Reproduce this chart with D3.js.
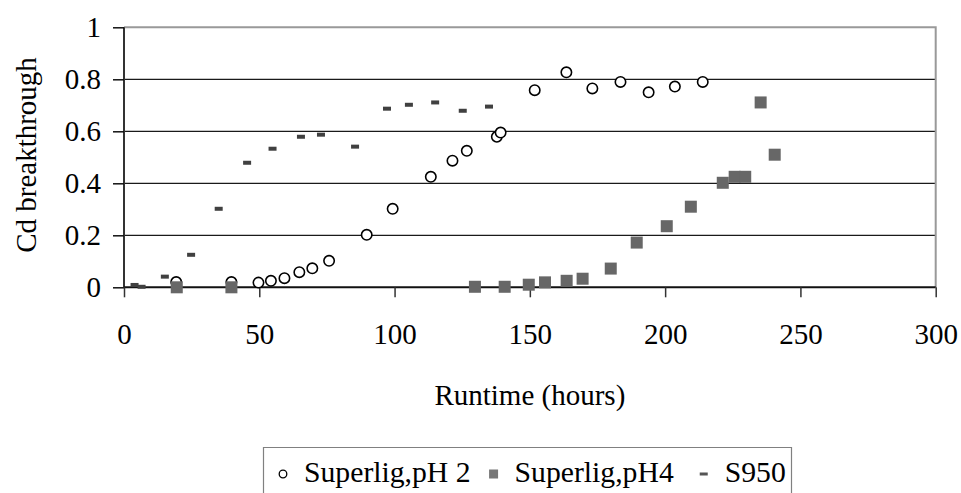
<!DOCTYPE html>
<html>
<head>
<meta charset="utf-8">
<script src="https://cdn.jsdelivr.net/npm/d3@7"></script>
<style>
  html, body { margin: 0; padding: 0; background: #fff; }
  svg { display: block; font-family: "Liberation Serif", "Times New Roman", serif; }
</style>
</head>
<body>
<svg id="chart" width="961" height="493"></svg>
<script>
// ---- data ----
const seriesNames = ["Superlig,pH 2", "Superlig,pH4", "S950"];
const xTicks = [0, 50, 100, 150, 200, 250, 300];
const yTicks = [0, 0.2, 0.4, 0.6, 0.8, 1];

const pH2Runtime = [19.3, 39.7, 49.7, 54.3, 59.3, 64.8, 69.6, 75.8, 89.7, 99.3, 113.4, 121.4, 126.7, 137.8, 139.2, 151.8, 163.5, 173.1, 183.5, 193.9, 203.6, 213.9];
const pH2Cd      = [0.02, 0.02, 0.018, 0.025, 0.035, 0.058, 0.073, 0.102, 0.202, 0.302, 0.425, 0.487, 0.525, 0.579, 0.595, 0.758, 0.827, 0.765, 0.79, 0.75, 0.772, 0.79];

const pH4Runtime = [19.5, 39.7, 129.7, 140.7, 149.6, 155.6, 163.6, 169.5, 179.9, 189.5, 200.6, 209.5, 221.3, 225.7, 229.6, 235.3, 240.5];
const pH4Cd      = [0.0, 0.0, 0.002, 0.002, 0.01, 0.019, 0.025, 0.033, 0.072, 0.172, 0.235, 0.31, 0.402, 0.425, 0.425, 0.711, 0.51];

const s950Runtime = [3.9, 6.5, 15.1, 24.8, 35, 45.5, 54.9, 65.4, 72.8, 85.4, 97.2, 105.3, 115, 125.2, 134.9];
const s950Cd      = [0.009, 0.002, 0.041, 0.125, 0.302, 0.479, 0.533, 0.579, 0.587, 0.541, 0.687, 0.702, 0.711, 0.679, 0.695];

// ---- layout ----
const svg = d3.select("#chart");
const L = 124, R = 935.7, T = 27.3, B = 287.3;
const x = d3.scaleLinear().domain([0, 300]).range([L, R]);
const y = d3.scaleLinear().domain([0, 1]).range([B, T]);
const FS = 29;
const FF = "Liberation Serif, Times New Roman, serif";

// gridlines (0.2 .. 0.8)
svg.append("g").selectAll("line")
  .data(yTicks.filter(v => v > 0 && v < 1))
  .join("line")
  .attr("x1", L).attr("x2", R)
  .attr("y1", d => y(d)).attr("y2", d => y(d))
  .attr("stroke", "#1a1a1a").attr("stroke-width", 1.2);

// plot border top + right (gray)
svg.append("path")
  .attr("d", `M${L},${y(1)}H${x(300)}V${B}`)
  .attr("fill", "none").attr("stroke", "#999").attr("stroke-width", 2);

// y axis
const yAxis = d3.axisLeft(y).tickValues(yTicks).tickSize(11).tickPadding(12)
  .tickFormat(d => d === 0 ? "0" : d === 1 ? "1" : d3.format(".1f")(d));
const gy = svg.append("g").attr("transform", `translate(${L},0)`).call(yAxis);
gy.select(".domain").attr("stroke", "#333").attr("stroke-width", 2).attr("d", `M0,${T}V${B}`);
gy.selectAll(".tick line").attr("stroke", "#111").attr("stroke-width", 1.5);
gy.selectAll(".tick text").attr("font-size", FS).attr("fill", "#000").attr("font-family", FF);

// x axis
const xAxis = d3.axisBottom(x).tickValues(xTicks).tickSize(10).tickPadding(26).tickFormat(d3.format("d"));
const gx = svg.append("g").attr("transform", `translate(0,${B})`).call(xAxis);
gx.select(".domain").attr("stroke", "#111").attr("stroke-width", 2).attr("d", `M${L},0H${R}`);
gx.selectAll(".tick line").attr("stroke", "#333").attr("stroke-width", 1.5);
gx.selectAll(".tick text").attr("font-size", FS).attr("fill", "#000").attr("font-family", FF);

// axis titles
svg.append("text")
  .attr("transform", `translate(36,155) rotate(-90)`)
  .attr("text-anchor", "middle").attr("font-size", FS).attr("fill", "#000")
  .text("Cd breakthrough");
svg.append("text")
  .attr("x", (L + R) / 2).attr("y", 405)
  .attr("text-anchor", "middle").attr("font-size", FS).attr("fill", "#000")
  .text("Runtime (hours)");

// ---- marks ----
const pH2 = pH2Runtime.map((t, i) => ({ t, v: pH2Cd[i] }));
const pH4 = pH4Runtime.map((t, i) => ({ t, v: pH4Cd[i] }));
const s950 = s950Runtime.map((t, i) => ({ t, v: s950Cd[i] }));

svg.append("g").selectAll("circle").data(pH2).join("circle")
  .attr("cx", d => x(d.t)).attr("cy", d => y(d.v)).attr("r", 5.2)
  .attr("fill", "#fff").attr("stroke", "#000").attr("stroke-width", 1.6);

const sq = 12;
svg.append("g").selectAll("rect").data(pH4).join("rect")
  .attr("x", d => x(d.t) - sq / 2).attr("y", d => y(d.v) - sq / 2)
  .attr("width", sq).attr("height", sq).attr("fill", "#676767");

svg.append("g").selectAll("rect").data(s950).join("rect")
  .attr("x", d => x(d.t) - 4).attr("y", d => y(d.v) - 2)
  .attr("width", 8).attr("height", 4).attr("fill", "#404040");

// ---- legend ----
const lg = svg.append("g");
const legTop = 447.5, legLeft = 263.5, legRight = 791.5;
lg.append("path")
  .attr("d", `M${legLeft},500V${legTop}H${legRight}V500`)
  .attr("fill", "none").attr("stroke", "#808080").attr("stroke-width", 1.2);

const LFS = 29.7;
const baseY = 482;
const markY = 474;
let cx = 283;
const markers = [
  g => g.append("circle").attr("cx", cx).attr("cy", markY).attr("r", 3.8)
        .attr("fill", "#fff").attr("stroke", "#000").attr("stroke-width", 1.3),
  g => g.append("rect").attr("x", cx - 4.5).attr("y", markY - 4.5).attr("width", 9).attr("height", 9).attr("fill", "#777"),
  g => g.append("rect").attr("x", cx - 4).attr("y", markY - 1.5).attr("width", 8).attr("height", 3).attr("fill", "#555")
];
const gaps = [23, 30, 0];
seriesNames.forEach((name, i) => {
  markers[i](lg);
  const t = lg.append("text").attr("x", cx + 21).attr("y", baseY)
    .attr("font-size", LFS).attr("fill", "#000").text(name);
  const w = t.node().getComputedTextLength();
  cx = cx + 21 + w + gaps[i];
});
</script>
</body>
</html>
